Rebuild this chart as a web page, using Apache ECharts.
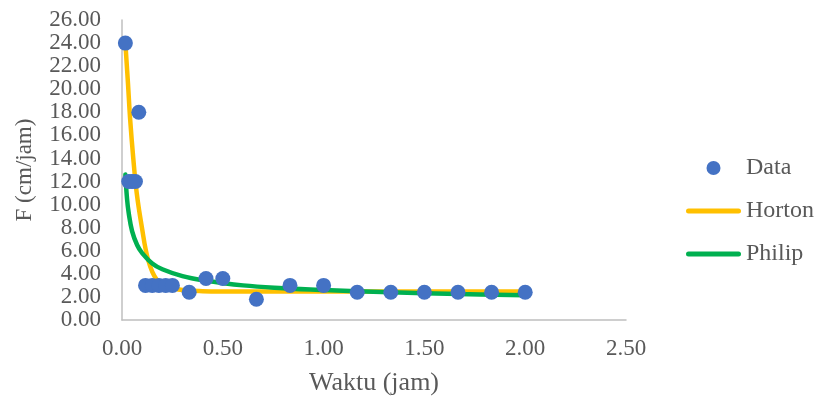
<!DOCTYPE html>
<html>
<head>
<meta charset="utf-8">
<script src="https://cdn.jsdelivr.net/npm/echarts@6/dist/echarts.min.js"></script>
<style>
  html, body { margin: 0; padding: 0; background: #fff; }
  #chart { width: 816px; height: 401px; }
</style>
</head>
<body>
<div id="chart"></div>
<script>
// observed data (time in hours, infiltration rate in cm/jam)
const dataTime = [0.0167, 0.0333, 0.05, 0.0667, 0.0833, 0.1167, 0.15, 0.1833, 0.2167, 0.25,
  0.3333, 0.4167, 0.5, 0.6667, 0.8333, 1.0, 1.1667, 1.3333, 1.5, 1.6667, 1.8333, 2.0]
const dataRate = [24, 12, 12, 12, 18, 3, 3, 3, 3, 3,
  2.4, 3.6, 3.6, 1.8, 3.0, 3.0, 2.4, 2.4, 2.4, 2.4, 2.4, 2.4]

// Horton curve
const hortonTime = [0.0167, 0.03, 0.04, 0.056, 0.073, 0.098, 0.13, 0.172, 0.228, 0.3, 0.4, 0.6, 1.0, 1.5, 2.0]
const hortonRate = [24.0, 20.4, 17.5, 14.0, 11.0, 8.1, 5.2, 3.5, 2.9, 2.6, 2.5, 2.47, 2.47, 2.47, 2.47]

// Philip curve
const philipTime = [0.0167, 0.025, 0.033, 0.05, 0.075, 0.1, 0.15, 0.2, 0.3, 0.4, 0.6, 0.8, 1.0, 1.33, 1.67, 2.0]
const philipRate = [12.6, 10.5, 9.3, 7.7, 6.5, 5.8, 4.9, 4.4, 3.8, 3.45, 3.0, 2.76, 2.6, 2.4, 2.25, 2.15]

const pairs = (xs, ys) => xs.map((x, i) => [x, ys[i]])

const font = 'Liberation Serif'
const textColor = '#595959'
const axisColor = '#bfbfbf'
const lineIcon = 'path://M2.5,0 L52.5,0 A2.5,2.5 0 0 1 52.5,5 L2.5,5 A2.5,2.5 0 0 1 2.5,0 Z'

const chart = echarts.init(document.getElementById('chart'))
chart.setOption({
  backgroundColor: '#fff',
  animation: false,
  textStyle: { fontFamily: font },
  grid: { left: 122, right: 190, top: 20, bottom: 81 },
  legend: {
    orient: 'vertical',
    left: 681,
    top: 151,
    itemWidth: 55,
    itemHeight: 14,
    itemGap: 19,
    symbolKeepAspect: true,
    textStyle: { fontFamily: font, fontSize: 24, color: textColor, lineHeight: 24 },
    data: [
      { name: 'Data', icon: 'circle' },
      { name: 'Horton', icon: lineIcon },
      { name: 'Philip', icon: lineIcon }
    ]
  },
  xAxis: {
    type: 'value',
    min: 0,
    max: 2.5,
    interval: 0.5,
    name: 'Waktu (jam)',
    nameLocation: 'middle',
    nameGap: 50,
    nameTextStyle: { fontFamily: font, fontSize: 26, color: textColor },
    axisLine: { show: true, onZero: false, lineStyle: { color: axisColor, width: 1.5 } },
    axisTick: { show: false },
    splitLine: { show: false },
    axisLabel: {
      margin: 17,
      fontFamily: font,
      fontSize: 23,
      color: textColor,
      formatter: v => v.toFixed(2)
    }
  },
  yAxis: {
    type: 'value',
    min: 0,
    max: 26,
    interval: 2,
    name: 'F (cm/jam)',
    nameLocation: 'middle',
    nameGap: 86,
    nameTextStyle: { fontFamily: font, fontSize: 23, color: textColor },
    axisLine: { show: true, onZero: false, lineStyle: { color: axisColor, width: 1.5 } },
    axisTick: { show: false },
    splitLine: { show: false },
    axisLabel: {
      margin: 21,
      fontFamily: font,
      fontSize: 23,
      color: textColor,
      formatter: v => v.toFixed(2)
    }
  },
  series: [
    {
      name: 'Horton',
      type: 'line',
      smooth: 0.4,
      symbol: 'none',
      z: 2,
      data: pairs(hortonTime, hortonRate),
      lineStyle: { color: '#ffc000', width: 4.5, cap: 'round' },
      itemStyle: { color: '#ffc000' }
    },
    {
      name: 'Philip',
      type: 'line',
      smooth: 0.4,
      symbol: 'none',
      z: 3,
      data: pairs(philipTime, philipRate),
      lineStyle: { color: '#00b050', width: 4.5, cap: 'round' },
      itemStyle: { color: '#00b050' }
    },
    {
      name: 'Data',
      type: 'scatter',
      symbol: 'circle',
      symbolSize: 15,
      z: 4,
      data: pairs(dataTime, dataRate),
      itemStyle: { color: '#4472c4', opacity: 1 }
    }
  ]
})
</script>
</body>
</html>
